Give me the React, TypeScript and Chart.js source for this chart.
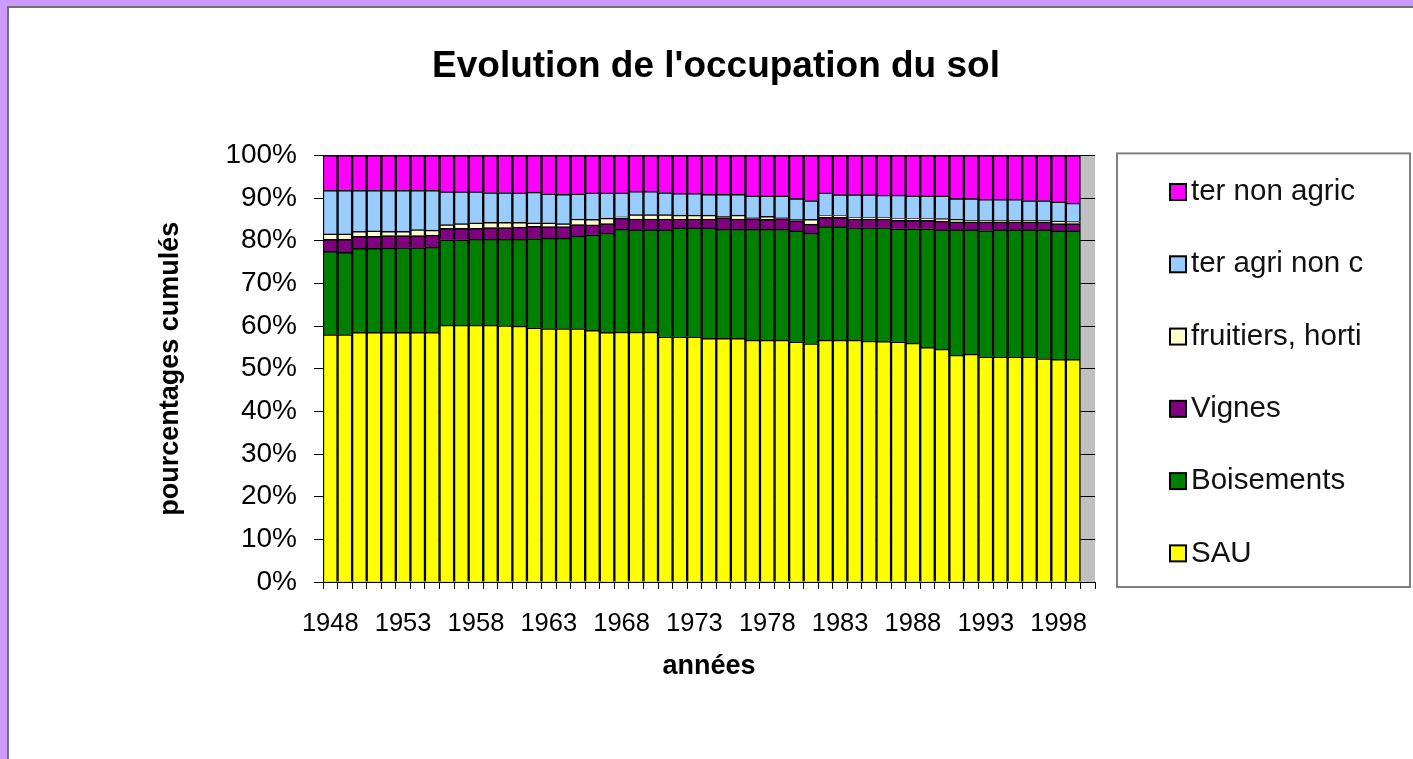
import React, { useEffect, useRef } from 'react';
import { Chart, registerables } from 'chart.js';

Chart.register(...registerables);

const FONT = '"Liberation Sans", Arial, sans-serif';

const years = [
  '1948', '1949', '1950', '1951', '1952', '1953', '1954', '1955', '1956', '1957',
  '1958', '1959', '1960', '1961', '1962', '1963', '1964', '1965', '1966', '1967',
  '1968', '1969', '1970', '1971', '1972', '1973', '1974', '1975', '1976', '1977',
  '1978', '1979', '1980', '1981', '1982', '1983', '1984', '1985', '1986', '1987',
  '1988', '1989', '1990', '1991', '1992', '1993', '1994', '1995', '1996', '1997',
  '1998', '1999', '2000',
];

const sau = [
  58.0, 58.0, 58.5, 58.5, 58.5, 58.5, 58.5, 58.5, 60.2, 60.2,
  60.2, 60.2, 60.1, 60.0, 59.6, 59.4, 59.4, 59.4, 59.0, 58.5,
  58.6, 58.6, 58.6, 57.5, 57.5, 57.5, 57.1, 57.1, 57.1, 56.7,
  56.7, 56.7, 56.3, 55.9, 56.7, 56.7, 56.7, 56.5, 56.4, 56.3,
  56.0, 55.0, 54.6, 53.2, 53.4, 52.8, 52.8, 52.8, 52.8, 52.4,
  52.2, 52.2,
];

const boisements = [
  19.5, 19.3, 19.7, 19.7, 19.8, 19.9, 19.9, 20.0, 20.0, 20.0,
  20.2, 20.2, 20.3, 20.4, 20.9, 21.2, 21.2, 21.7, 22.4, 23.3,
  24.1, 24.0, 24.0, 25.1, 25.5, 25.5, 25.9, 25.6, 25.6, 26.0,
  26.0, 26.0, 26.0, 25.9, 26.6, 26.6, 26.4, 26.6, 26.7, 26.5,
  26.8, 27.8, 28.0, 29.4, 29.2, 29.6, 29.8, 29.8, 29.8, 30.2,
  30.1, 30.1,
];

const vignes = [
  2.8, 3.0, 2.8, 2.8, 2.9, 2.8, 2.8, 2.8, 2.7, 2.7,
  2.5, 2.7, 2.7, 2.8, 2.9, 2.7, 2.7, 2.7, 2.3, 2.2,
  2.6, 2.5, 2.5, 2.5, 2.1, 2.1, 2.1, 2.7, 2.4, 2.5,
  2.3, 2.5, 2.4, 2.1, 2.2, 2.2, 2.0, 2.0, 2.0, 2.0,
  2.0, 2.0, 2.0, 1.8, 1.8, 2.0, 1.8, 1.8, 1.8, 1.8,
  1.7, 1.7,
];

const fruitiers = [
  1.3, 1.3, 1.2, 1.3, 1.0, 1.0, 1.4, 1.2, 0.9, 1.1,
  1.3, 1.2, 1.2, 1.1, 0.8, 0.9, 0.7, 1.3, 1.3, 1.3,
  0.3, 1.0, 1.0, 1.0, 0.9, 0.9, 0.9, 0.3, 0.9, 0.3,
  0.7, 0.3, 0.3, 1.1, 0.4, 0.4, 0.3, 0.3, 0.3, 0.4,
  0.4, 0.4, 0.6, 0.6, 0.4, 0.4, 0.4, 0.4, 0.4, 0.4,
  0.6, 0.5,
];

const terAgriNonC = [
  10.2, 10.2, 9.6, 9.5, 9.6, 9.6, 9.2, 9.3, 7.7, 7.5,
  7.3, 7.0, 7.0, 6.9, 7.2, 6.8, 6.9, 5.9, 6.2, 5.9,
  5.6, 5.5, 5.5, 5.2, 5.1, 5.1, 4.9, 5.2, 4.9, 5.0,
  4.8, 5.0, 4.9, 4.4, 5.3, 4.9, 5.4, 5.4, 5.3, 5.5,
  5.3, 5.3, 5.3, 4.9, 5.1, 4.9, 4.9, 4.9, 4.6, 4.6,
  4.5, 4.3,
];

const terNonAgric = [
  8.2, 8.2, 8.2, 8.2, 8.2, 8.2, 8.2, 8.2, 8.5, 8.5,
  8.5, 8.7, 8.7, 8.8, 8.6, 9.0, 9.1, 9.0, 8.8, 8.8,
  8.8, 8.4, 8.4, 8.7, 8.9, 8.9, 9.1, 9.1, 9.1, 9.5,
  9.5, 9.5, 10.1, 10.6, 8.8, 9.2, 9.2, 9.2, 9.3, 9.3,
  9.5, 9.5, 9.5, 10.1, 10.1, 10.3, 10.3, 10.3, 10.6, 10.6,
  10.9, 11.2,
];

const seriesNames = ['SAU', 'Boisements', 'Vignes', 'fruitiers, horti', 'ter agri non c', 'ter non agric'];
const seriesColors = ['#FFFF00', '#008000', '#800080', '#FFFFCC', '#99CCFF', '#FF00FF'];
const yTickLabels = ['0%', '10%', '20%', '30%', '40%', '50%', '60%', '70%', '80%', '90%', '100%'];

const plotBg = {
  id: 'plotBg',
  beforeDraw(chart: any) {
    const { ctx, chartArea: a } = chart;
    ctx.save();
    ctx.fillStyle = '#C0C0C0';
    ctx.fillRect(a.left, a.top, a.right - a.left, a.bottom - a.top);
    ctx.restore();
  },
};

const boxLegend = {
  id: 'boxLegend',
  afterDraw(chart: any) {
    const { ctx, chartArea: a } = chart;
    const x0 = a.right + 22;
    const y0 = a.top - 2;
    const x1 = chart.width - 3;
    const y1 = a.bottom + 5;
    ctx.save();
    ctx.fillStyle = '#FFFFFF';
    ctx.fillRect(x0, y0, x1 - x0, y1 - y0);
    ctx.strokeStyle = '#808080';
    ctx.lineWidth = 2;
    ctx.strokeRect(x0, y0, x1 - x0, y1 - y0);
    const ds = chart.data.datasets.slice().reverse();
    const step = (y1 - y0) / ds.length;
    ds.forEach((d: any, i: number) => {
      const cy = y0 + step * (i + 0.5) + 2.5;
      const sx = x0 + 53;
      const sz = 16;
      ctx.fillStyle = d.backgroundColor;
      ctx.fillRect(sx, cy - sz / 2, sz, sz);
      ctx.strokeStyle = '#000';
      ctx.lineWidth = 2;
      ctx.strokeRect(sx, cy - sz / 2, sz, sz);
      ctx.fillStyle = '#111';
      ctx.font = `29.5px ${FONT}`;
      ctx.textBaseline = 'middle';
      ctx.textAlign = 'left';
      ctx.fillText(d.label, sx + sz + 5, cy);
    });
    ctx.restore();
  },
};

export default function App() {
  const ref = useRef<HTMLCanvasElement | null>(null);

  useEffect(() => {
    document.body.style.margin = '0';
    const raw = [sau, boisements, vignes, fruitiers, terAgriNonC, terNonAgric];
    const totals = sau.map((_, i) => raw.reduce((s, arr) => s + arr[i], 0));
    const datasets = raw.map((arr, k) => ({
      label: seriesNames[k],
      data: arr.map((v, i) => (v / totals[i]) * 100),
      backgroundColor: seriesColors[k],
      borderColor: '#000000',
      borderWidth: 1.5,
      barPercentage: 1,
      categoryPercentage: 1,
    }));

    const chart = new Chart(ref.current as HTMLCanvasElement, {
      type: 'bar',
      data: { labels: years, datasets },
      plugins: [plotBg, boxLegend],
      options: {
        animation: false,
        responsive: false,
        devicePixelRatio: 1,
        layout: { padding: { left: 19, right: 0, top: 0, bottom: 72 } },
        plugins: {
          legend: { display: false },
          tooltip: { enabled: false },
          title: {
            display: true,
            text: "Evolution de l'occupation du sol",
            color: '#000',
            font: { family: FONT, size: 37, weight: 'bold' },
            padding: { top: 45, bottom: 66 },
          },
        },
        scales: {
          x: {
            stacked: true,
            grid: { offset: true, drawOnChartArea: false, tickLength: 7, color: '#000' },
            border: { color: '#000', width: 1 },
            ticks: {
              autoSkip: false,
              maxRotation: 0,
              minRotation: 0,
              padding: 20,
              color: '#000',
              font: { family: FONT, size: 25.5 },
              callback: (_v: any, i: number) => (i % 5 === 0 ? years[i] : ''),
            },
            title: {
              display: true,
              text: 'années',
              color: '#000',
              font: { family: FONT, size: 27, weight: 'bold' },
              padding: { top: 4, bottom: 4 },
            },
            afterFit: (s: any) => { s.height = 105; },
          },
          y: {
            stacked: true,
            min: 0,
            max: 100,
            grid: { color: '#000', tickLength: 9 },
            border: { color: '#000', width: 1 },
            ticks: {
              stepSize: 10,
              padding: 17,
              color: '#000',
              font: { family: FONT, size: 28 },
              callback: (v: any) => yTickLabels[Math.round(Number(v) / 10)],
            },
            title: {
              display: true,
              text: 'pourcentages cumulés',
              color: '#000',
              font: { family: FONT, size: 27, weight: 'bold' },
              padding: { top: 135, bottom: 4 },
            },
            afterFit: (s: any) => { s.width = 304; },
          },
          spacer: {
            type: 'linear',
            position: 'right',
            display: true,
            grid: { display: false },
            ticks: { display: false },
            border: { display: false },
            afterFit: (s: any) => { s.width = 318; },
          },
        },
      } as any,
    });
    return () => chart.destroy();
  }, []);

  return (
    <div style={{ position: 'relative', width: 1413, height: 759, background: '#CC99FF', overflow: 'hidden' }}>
      <div
        style={{
          position: 'absolute',
          left: 7,
          top: 6,
          right: 0,
          bottom: 0,
          background: '#FFFFFF',
          borderLeft: '2px solid #6F6F6F',
          borderTop: '2px solid #6F6F6F',
        }}
      />
      <canvas ref={ref} width={1413} height={759} style={{ position: 'absolute', left: 0, top: 0 }} />
    </div>
  );
}
